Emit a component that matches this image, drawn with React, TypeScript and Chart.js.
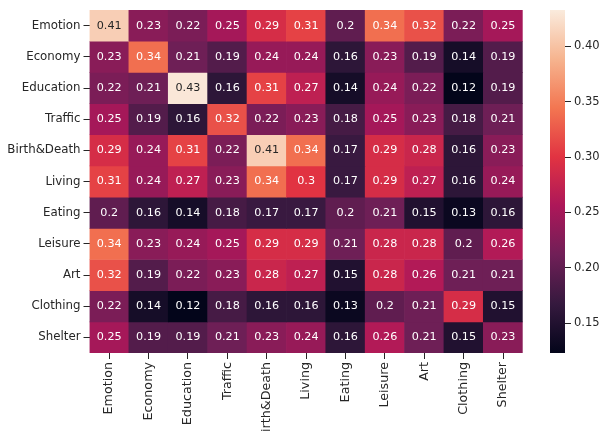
import React, { useEffect, useRef } from "react";
import { Chart, registerables } from "chart.js";

Chart.register(...registerables);

const categories = ["Emotion", "Economy", "Education", "Traffic", "Birth&Death", "Living", "Eating", "Leisure", "Art", "Clothing", "Shelter"];

const emotion = [0.41, 0.23, 0.22, 0.25, 0.29, 0.31, 0.2, 0.34, 0.32, 0.22, 0.25];
const economy = [0.23, 0.34, 0.21, 0.19, 0.24, 0.24, 0.16, 0.23, 0.19, 0.14, 0.19];
const education = [0.22, 0.21, 0.43, 0.16, 0.31, 0.27, 0.14, 0.24, 0.22, 0.12, 0.19];
const traffic = [0.25, 0.19, 0.16, 0.32, 0.22, 0.23, 0.18, 0.25, 0.23, 0.18, 0.21];
const birthDeath = [0.29, 0.24, 0.31, 0.22, 0.41, 0.34, 0.17, 0.29, 0.28, 0.16, 0.23];
const living = [0.31, 0.24, 0.27, 0.23, 0.34, 0.3, 0.17, 0.29, 0.27, 0.16, 0.24];
const eating = [0.2, 0.16, 0.14, 0.18, 0.17, 0.17, 0.2, 0.21, 0.15, 0.13, 0.16];
const leisure = [0.34, 0.23, 0.24, 0.25, 0.29, 0.29, 0.21, 0.28, 0.28, 0.2, 0.26];
const art = [0.32, 0.19, 0.22, 0.23, 0.28, 0.27, 0.15, 0.28, 0.26, 0.21, 0.21];
const clothing = [0.22, 0.14, 0.12, 0.18, 0.16, 0.16, 0.13, 0.2, 0.21, 0.29, 0.15];
const shelter = [0.25, 0.19, 0.19, 0.21, 0.23, 0.24, 0.16, 0.26, 0.21, 0.15, 0.23];

const matrix = [emotion, economy, education, traffic, birthDeath, living, eating, leisure, art, clothing, shelter];

const colorbarTicks = [0.15, 0.2, 0.25, 0.3, 0.35, 0.4];
const vmin = 0.123;
const vmax = 0.433;

// rocket colormap key stops
const rocketStops: [number, string][] = [
  [0, "#03051a"],
  [0.143, "#35193e"],
  [0.286, "#701f57"],
  [0.429, "#ad1759"],
  [0.571, "#e13342"],
  [0.714, "#f37651"],
  [0.857, "#f6b48f"],
  [1, "#faebdd"],
];

function hexToRgb(h: string) {
  return [parseInt(h.slice(1, 3), 16), parseInt(h.slice(3, 5), 16), parseInt(h.slice(5, 7), 16)];
}

function rocketRgb(t: number) {
  t = Math.max(0, Math.min(1, t));
  for (let i = 0; i < rocketStops.length - 1; i++) {
    const [t0, c0] = rocketStops[i];
    const [t1, c1] = rocketStops[i + 1];
    if (t <= t1) {
      const f = (t - t0) / (t1 - t0);
      const a = hexToRgb(c0);
      const b = hexToRgb(c1);
      return a.map((v, k) => Math.round(v + (b[k] - v) * f));
    }
  }
  return hexToRgb(rocketStops[rocketStops.length - 1][1]);
}

function colorFor(v: number) {
  const [r, g, b] = rocketRgb((v - vmin) / (vmax - vmin));
  return `rgb(${r},${g},${b})`;
}

function textColorFor(v: number) {
  const rgb = rocketRgb((v - vmin) / (vmax - vmin)).map((c) => {
    const s = c / 255;
    return s <= 0.03928 ? s / 12.92 : Math.pow((s + 0.055) / 1.055, 2.4);
  });
  const lum = 0.2126 * rgb[0] + 0.7152 * rgb[1] + 0.0722 * rgb[2];
  return lum > 0.408 ? "#262626" : "#ffffff";
}

const FONT = "'DejaVu Sans', sans-serif";
const TXT = "#262626";

const annotatePlugin = {
  id: "annotate",
  afterDatasetsDraw(chart: any) {
    const ctx = chart.ctx;
    ctx.save();
    ctx.font = `11.2px ${FONT}`;
    ctx.textAlign = "center";
    ctx.textBaseline = "middle";
    chart.data.datasets.forEach((ds: any, r: number) => {
      const meta = chart.getDatasetMeta(r);
      meta.data.forEach((el: any, c: number) => {
        const v = matrix[r][c];
        ctx.fillStyle = textColorFor(v);
        ctx.fillText(String(v), el.x, (el.y + el.base) / 2);
      });
    });
    ctx.restore();
  },
};

export default function App() {
  const heatRef = useRef<HTMLCanvasElement>(null);
  const cbRef = useRef<HTMLCanvasElement>(null);

  useEffect(() => {
    const heat = new Chart(heatRef.current!, {
      type: "bar",
      data: {
        labels: categories,
        datasets: matrix.map((row, r) => ({
          label: categories[r],
          data: row.map(() => [r, r + 1] as any),
          backgroundColor: row.map((v) => colorFor(v)),
          borderWidth: 0,
          borderSkipped: false,
          barPercentage: 1,
          categoryPercentage: 1,
          grouped: false,
        })),
      },
      options: {
        responsive: false,
        animation: false,
        layout: { padding: { top: 7, right: 17.3, left: 0, bottom: 0 } },
        plugins: { legend: { display: false }, tooltip: { enabled: false } },
        scales: {
          x: {
            type: "category",
            offset: true,
            grid: { offset: false, drawOnChartArea: false, drawTicks: true, tickLength: 6, color: TXT },
            border: { display: false },
            ticks: {
              autoSkip: false,
              minRotation: 90,
              maxRotation: 90,
              padding: 3,
              color: TXT,
              font: { family: FONT, size: 12.7 },
            },
            afterFit: (s: any) => {
              s.height = 79;
            },
          },
          y: {
            type: "linear",
            min: 0,
            max: categories.length,
            reverse: true,
            grid: { drawOnChartArea: false, drawTicks: true, tickLength: 6, color: TXT },
            border: { display: false },
            afterBuildTicks: (s: any) => {
              s.ticks = categories.map((_, i) => ({ value: i + 0.5 }));
            },
            ticks: {
              autoSkip: false,
              padding: 3,
              color: TXT,
              font: { family: FONT, size: 11.8 },
              callback: (v: any) => categories[Math.floor(Number(v))],
            },
            afterFit: (s: any) => {
              s.width = 89.5;
            },
          },
        },
      },
      plugins: [annotatePlugin],
    });

    const cb = new Chart(cbRef.current!, {
      type: "bar",
      data: {
        labels: ["cb"],
        datasets: [
          {
            data: [[vmin, vmax] as any],
            backgroundColor: (c: any) => {
              const { chart } = c;
              const area = chart.chartArea;
              if (!area) return "#000";
              const g = chart.ctx.createLinearGradient(0, area.bottom, 0, area.top);
              rocketStops.forEach(([t, col]) => g.addColorStop(t, col));
              return g;
            },
            borderWidth: 0,
            borderSkipped: false,
            barPercentage: 1,
            categoryPercentage: 1,
          },
        ],
      },
      options: {
        responsive: false,
        animation: false,
        layout: { padding: { top: 7, left: 10, right: 0, bottom: 79 } },
        plugins: { legend: { display: false }, tooltip: { enabled: false } },
        scales: {
          x: { display: false },
          y: {
            type: "linear",
            position: "right",
            min: vmin,
            max: vmax,
            grid: { drawOnChartArea: false, drawTicks: true, tickLength: 6, color: TXT },
            border: { display: false },
            afterBuildTicks: (s: any) => {
              s.ticks = colorbarTicks.map((v) => ({ value: v }));
            },
            ticks: {
              padding: 3,
              color: TXT,
              font: { family: FONT, size: 11.5 },
              callback: (v: any) => Number(v).toFixed(2),
            },
            afterFit: (s: any) => {
              s.width = 37;
            },
          },
        },
      },
    });

    return () => {
      heat.destroy();
      cb.destroy();
    };
  }, []);

  return (
    <div style={{ position: "fixed", left: 0, top: 0, width: 602, height: 432, background: "#fff" }}>
      <canvas ref={heatRef} width={540} height={432} style={{ position: "absolute", left: 0, top: 0 }} />
      <canvas ref={cbRef} width={62} height={432} style={{ position: "absolute", left: 540, top: 0 }} />
    </div>
  );
}
